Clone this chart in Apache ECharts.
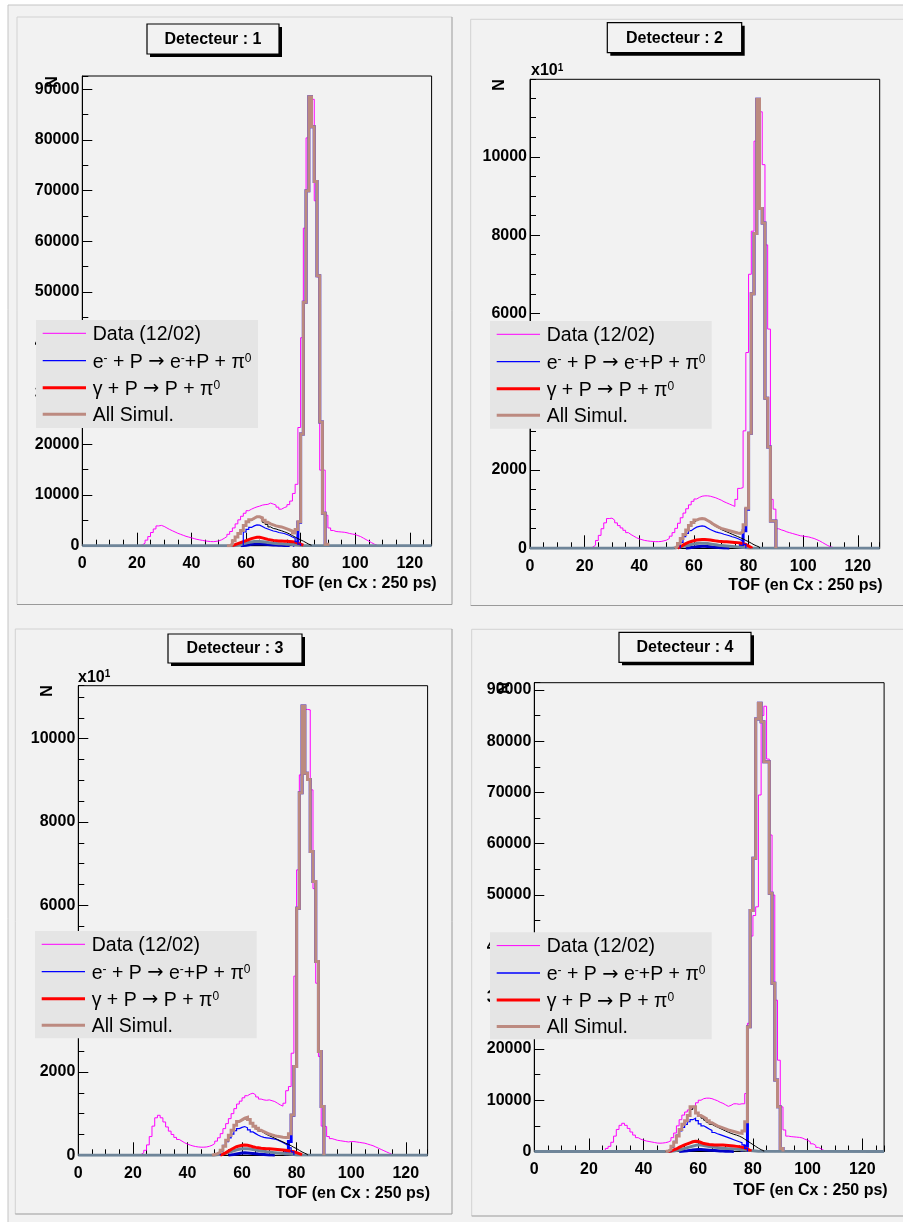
<!DOCTYPE html>
<html><head><meta charset="utf-8">
<script src="https://cdn.jsdelivr.net/npm/echarts@6/dist/echarts.min.js"></script>
<style>html,body{margin:0;padding:0;background:#fff;}#c{width:903px;height:1222px;}</style>
</head><body><div id="c"></div>
<script>
// ---------------- DATA (counts per TOF channel, bin width 1) ----------------
// Detecteur 1
const d1DataStart = 20;
const d1Data = [0,150,500,1100,1800,2600,3300,3900,4000,3800,3500,3200,2950,2700,2450,2250,2050,1850,1700,1550,1400,1250,1150,1050,950,880,820,800,850,950,1150,1450,1800,2250,2800,3500,4300,5100,5800,6400,6900,7200,7450,7650,7800,8000,8100,8150,8400,8200,8000,7600,7200,7500,7700,8100,8800,10300,12100,23300,41000,62600,80400,88000,88000,68000,53000,14900,14900,6000,3500,3000,2800,2750,2700,2650,2550,2400,2300,2200,2000,1800,1500,1200,900,600,300,100];
const d1AllStart = 53;
const d1All = [0,300,1000,1700,2400,3000,4000,4700,5100,5400,5700,5700,5500,5000,4600,4300,4100,3900,3800,3700,3500,3300,3100,2900,2500,3200,4700,22000,48000,70000,88500,82600,71800,53200,24400,6400,300];
const d1PeakStart = 77;
const d1Peak = [300,300,4600,22000,48000,70000,88500,82600,71800,53200,24400,6400];
const d1EPStart = 59;
const d1EP = [2700,3200,3600,3900,4100,4050,3800,3500,3300,3100,2900,2800,2600,2500,2400,2200,2000,1700,1500,800,300];
const d1GPStart = 55;
const d1GP = [200,400,600,800,1000,1200,1400,1550,1650,1650,1550,1400,1250,1150,1050,1000,950,950,900,900,850,800,700,500,300,100];
const d1SumStart = 54;
const d1Sum = [300,1000,1700,2400,3000,3900,4600,5000,5300,5600,5600,5300,4600,4200,3700,3400,3300,3100,2950,2750,2550,2300,2000,1700,1400,1150,900,600,300,100];
const d1GrayStart = 55;
const d1Gray = [50,100,200,350,500,650,750,820,850,850,800,720,640,560,500,450,400,370,340,310,280,240,190,140,80,30];
const d1NavyStart = 58;
const d1Navy = [50,100,200,280,330,350,350,320,280,240,200,160,130,100,80,60,40,20];

// Detecteur 2 (x10^1)
const d2DataStart = 22;
const d2Data = [30,80,200,330,500,650,760,770,720,650,580,520,460,400,350,310,270,240,220,200,190,180,175,170,170,175,190,210,250,310,400,510,640,780,900,1010,1110,1200,1260,1300,1330,1340,1340,1330,1310,1290,1260,1230,1190,1160,1130,1100,1070,1250,1530,1550,3000,5000,7000,8100,10400,11400,11150,9800,7750,5600,1250,1000,500,470,450,420,400,380,360,340,320,310,300,290,270,250,220,190,150,110,70,40,20];
const d2AllStart = 53;
const d2All = [50,120,250,350,470,580,660,720,750,760,750,710,670,620,580,540,510,490,470,450,430,410,390,380,420,600,1020,2940,6500,8040,11470,8680,8310,3830,2590,700,700];
const d2PeakStart = 77;
const d2Peak = [100,450,1000,2940,6500,8040,11470,8680,8310,3830,2590,700,700];
const d2EPStart = 55;
const d2EP = [150,300,380,450,500,540,560,575,560,520,480,450,420,400,385,360,340,320,295,275,250,220,190,100];
const d2GPStart = 54;
const d2GP = [40,80,120,150,175,195,210,220,225,225,220,210,200,190,180,175,170,165,160,155,150,145,135,120,100,60,20];
const d2SumStart = 53;
const d2Sum = [50,120,250,350,470,580,660,710,740,750,740,700,650,600,560,520,480,450,420,390,360,330,300,270,240,200,170,130,90,60,30];
const d2GrayStart = 52;
const d2Gray = [10,20,35,50,65,80,95,110,120,128,130,128,120,110,100,90,80,72,65,58,52,46,40,34,28,22,15,8];
const d2NavyStart = 57;
const d2Navy = [10,20,30,40,48,52,50,45,38,30,24,18,13,9,6,3];

// Detecteur 3 (x10^1)
const d3DataStart = 22;
const d3Data = [20,60,120,250,450,700,900,960,900,800,680,580,500,430,380,340,300,270,245,225,210,200,195,195,200,215,240,280,340,420,520,640,760,880,1000,1120,1230,1300,1380,1430,1470,1490,1450,1400,1350,1330,1320,1330,1310,1290,1250,1210,1180,1250,1550,1650,2450,4300,6850,9130,10600,10700,10690,8770,6400,4130,2370,700,690,450,400,380,360,350,340,330,320,330,330,320,310,300,290,270,250,230,200,170,140,110,80,50,20];
const d3AllStart = 49;
const d3All = [20,40,70,120,220,360,480,600,720,810,850,890,910,860,770,700,650,600,570,540,510,490,470,455,445,435,430,430,520,970,2130,5930,8700,10780,9170,9020,7290,6570,4650,2490,1170];
const d3PeakStart = 76;
const d3Peak = [100,330,960,2130,5930,8700,10780,9170,9020,7290,6570,4650,2490,1170];
const d3EPStart = 52;
const d3EP = [100,240,330,420,510,590,640,670,690,660,610,560,520,480,450,430,420,410,400,390,370,340,310,270,230,180,80];
const d3GPStart = 52;
const d3GP = [30,60,100,140,175,205,225,240,245,240,225,205,190,180,170,165,160,155,150,145,140,135,128,120,110,100,85,65,40,15];
const d3SumStart = 49;
const d3Sum = [20,40,70,120,220,360,480,600,720,800,840,870,880,840,760,690,630,580,540,500,470,440,410,380,350,320,290,260,230,190,160,120,80,50,20];
const d3GrayStart = 50;
const d3Gray = [10,20,35,50,70,90,110,130,145,155,160,158,150,140,128,115,105,95,85,78,70,63,56,50,44,38,32,25,18,10];
const d3NavyStart = 55;
const d3Navy = [10,20,32,45,55,60,58,52,45,38,30,24,18,13,9,6,3];

// Detecteur 4
const d4DataStart = 25;
const d4Data = [200,600,1000,1800,3000,4300,5100,5500,5100,4500,3800,3200,2700,2400,2200,2050,1950,1850,1750,1650,1620,1650,1720,1850,2100,2700,3600,5000,6200,7100,7700,8100,8400,8800,9500,10000,10300,10400,10400,10300,10100,9900,9600,9400,9100,8800,9000,9300,9300,9200,9300,9300,11300,25000,42000,46000,47700,69500,85000,86800,76500,61700,50000,29500,17800,8700,4200,3000,2900,2850,2800,2750,2650,2400,2200,1900,1500,1200,800,500,200];
const d4AllStart = 48;
const d4All = [100,400,1000,1800,3000,4300,5300,6000,7000,8700,8700,7500,7000,6700,6400,6000,5600,5300,5000,4800,4600,4400,4200,4050,3900,3750,3600,3550,4000,5800,24300,47000,57150,84300,87380,83800,76000,76000,50350,32800,13940,8730,600];
const d4PeakStart = 76;
const d4Peak = [500,1000,24300,47000,57150,84300,87380,83800,76000,76000,50350,32800,13940,8730,600];
const d4EPStart = 50;
const d4EP = [800,2000,3200,4000,4700,5300,5800,6200,6500,6000,5400,5000,4700,4400,4100,3700,3450,3300,3100,2900,2700,2500,2300,2100,1900,1700,1300,600];
const d4GPStart = 49;
const d4GP = [100,300,500,800,1050,1300,1500,1700,1900,2000,1950,1750,1550,1450,1350,1300,1250,1250,1250,1250,1200,1150,1100,1050,1000,950,850,700,450,200];
const d4SumStart = 48;
const d4Sum = [100,400,1000,1800,3000,4300,5300,6000,7000,8200,8600,7400,6900,6500,6100,5700,5300,5000,4750,4500,4250,4000,3750,3550,3350,3200,3000,2750,2400,2050,1700,1350,1000,650,350,150];
const d4GrayStart = 49;
const d4Gray = [50,100,200,300,450,600,750,900,1050,1200,1300,1250,1150,1050,950,880,820,760,700,650,600,560,520,480,440,400,350,300,250,200,150,100,50];
const d4NavyStart = 53;
const d4Navy = [50,100,150,220,300,360,400,380,340,300,260,220,180,150,120,90,70,50,30,15];

// Axis ticks / texts
const xTicks = [0, 20, 40, 60, 80, 100, 120];
const titles = ['Detecteur : 1', 'Detecteur : 2', 'Detecteur : 3', 'Detecteur : 4'];
const xTitle = 'TOF (en Cx : 250 ps)';
const yTitle = 'N';

// ---------------- LAYOUT ----------------
const FONT = '"Liberation Sans", Arial, Helvetica, sans-serif';
const C = {data:'#ff00ff', ep:'#0000ff', gp:'#ff0000', all:'#bc8a80', sum:'#000000', gray:'#6f8599', navy:'#0000c8'};
const BG = '#f2f2f2';

const panels = [
  {grid:[82.3,76,349.3,469.7], ymax:92600, yint:10000, ymin:5000, box:[147,24,132,30], leg:[36,320,222,108], n:[52.5,82], x10:null, tof:[436.7,583.3], pad:[17,17,452,604.5],
   s:{data:[d1DataStart,d1Data], all:[d1AllStart,d1All], peak:[d1PeakStart,d1Peak], ep:[d1EPStart,d1EP], gp:[d1GPStart,d1GP], sum:[d1SumStart,d1Sum], gray:[d1GrayStart,d1Gray], navy:[d1NavyStart,d1Navy]}},
  {grid:[530,79.3,349.7,469], ymax:11980, yint:2000, ymin:500, box:[607.3,22.7,134.4,30], leg:[490,321,221.7,107.7], n:[500,85], x10:[531,71], tof:[882.7,586], pad:[470.7,19.3,905,605.5],
   s:{data:[d2DataStart,d2Data], all:[d2AllStart,d2All], peak:[d2PeakStart,d2Peak], ep:[d2EPStart,d2EP], gp:[d2GPStart,d2GP], sum:[d2SumStart,d2Sum], gray:[d2GrayStart,d2Gray], navy:[d2NavyStart,d2Navy]}},
  {grid:[78.3,685.7,349.3,469.6], ymax:11270, yint:2000, ymin:500, box:[168,634,134,29], leg:[35,931,221.7,107.3], n:[48,691], x10:[78,677.5], tof:[430,1193.3], pad:[15.3,629,452,1214],
   s:{data:[d3DataStart,d3Data], all:[d3AllStart,d3All], peak:[d3PeakStart,d3Peak], ep:[d3EPStart,d3EP], gp:[d3GPStart,d3GP], sum:[d3SumStart,d3Sum], gray:[d3GrayStart,d3Gray], navy:[d3NavyStart,d3Navy]}},
  {grid:[534.3,682.7,349.8,468.8], ymax:91390, yint:10000, ymin:5000, box:[619,632.3,132,30], leg:[490,932.3,221.7,107], n:[505,688], x10:null, tof:[887.7,1190.7], pad:[471.7,629.3,905,1216],
   s:{data:[d4DataStart,d4Data], all:[d4AllStart,d4All], peak:[d4PeakStart,d4Peak], ep:[d4EPStart,d4EP], gp:[d4GPStart,d4GP], sum:[d4SumStart,d4Sum], gray:[d4GrayStart,d4Gray], navy:[d4NavyStart,d4Navy]}}
];

function hist(start, vals, full) {
  const pts = [];
  if (full) pts.push([0, 0]);
  pts.push([start, 0]);
  for (let i = 0; i < vals.length; i++) pts.push([start + i, vals[i]]);
  pts.push([start + vals.length, 0]);
  if (full) pts.push([128, 0]);
  return pts;
}

const grids = [], xAxes = [], yAxes = [], series = [], graphics = [];

graphics.push({type:'rect', shape:{x:8,y:5,width:900,height:1222}, style:{fill:BG, stroke:'#c4c4c4', lineWidth:1}, z:-20, silent:true});

panels.forEach((p, i) => {
  const [gl, gt, gw, gh] = p.grid;
  grids.push({left:gl, top:gt, width:gw, height:gh, show:true, borderColor:'#000', borderWidth:1, backgroundColor:'transparent', containLabel:false, outerBoundsMode:'none'});
  const lab = {color:'#000', fontFamily:FONT, fontWeight:'bold', fontSize:16};
  xAxes.push({gridIndex:i, type:'value', position:'bottom', min:0, max:128, interval:20,
    axisLine:{show:true, onZero:false, lineStyle:{color:'#000', width:1}},
    axisTick:{show:true, inside:true, length:13, lineStyle:{color:'#000', width:1}},
    splitLine:{show:false},
    axisLabel:Object.assign({margin:10, showMaxLabel:false, formatter:v => (xTicks.indexOf(v) >= 0 ? String(v) : '')}, lab)});
  xAxes.push({gridIndex:i, type:'value', position:'bottom', min:0, max:128, interval:5,
    axisLine:{show:false}, axisTick:{show:true, inside:true, length:6, lineStyle:{color:'#000', width:1}},
    splitLine:{show:false}, axisLabel:{show:false}});
  yAxes.push({gridIndex:i, type:'value', position:'left', min:0, max:p.ymax, interval:p.yint,
    axisLine:{show:true, onZero:false, lineStyle:{color:'#000', width:1}},
    axisTick:{show:true, inside:true, length:10, lineStyle:{color:'#000', width:1}},
    splitLine:{show:false},
    axisLabel:Object.assign({margin:3, showMaxLabel:false, formatter:v => (v % p.yint === 0 ? String(v) : '')}, lab)});
  yAxes.push({gridIndex:i, type:'value', position:'left', min:0, max:p.ymax, interval:p.ymin,
    axisLine:{show:false}, axisTick:{show:true, inside:true, length:6, lineStyle:{color:'#000', width:1}},
    splitLine:{show:false}, axisLabel:{show:false}});

  const xi = 2 * i, yi = 2 * i;
  const mk = (name, key, color, width, z, full) => ({
    type:'line', name, xAxisIndex:xi, yAxisIndex:yi, data:hist(p.s[key][0], p.s[key][1], full),
    step:'end', showSymbol:false, symbol:'none', lineStyle:{color, width, join:'miter'}, z, animation:false, silent:true, clip:true
  });
  series.push(mk('Data (12/02)', 'data', C.data, 1, 2, false));
  series.push(mk('peak', 'peak', C.ep, 3, 3, false));
  series.push(mk('navy', 'navy', C.navy, 3, 4, false));
  series.push(mk('gray', 'gray', C.gray, 3, 5, true));
  series.push(mk('gamma', 'gp', C.gp, 3, 6, false));
  series.push(mk('ep', 'ep', C.ep, 1.2, 7, false));
  series.push(mk('sum', 'sum', C.sum, 1, 8, false));
  series.push(mk('All Simul.', 'all', C.all, 3, 9, false));

  const [pl, pt, pr, pb] = p.pad;
  graphics.push({type:'polyline', shape:{points:[[pl,pb],[pl,pt],[pr,pt]]}, style:{stroke:'#d2d2d2', lineWidth:1, fill:null}, z:-10, silent:true});
  graphics.push({type:'polyline', shape:{points:[[pl,pb],[pr,pb],[pr,pt]]}, style:{stroke:'#9a9a9a', lineWidth:1, fill:null}, z:-10, silent:true});

  const [bx, by, bw, bh] = p.box;
  graphics.push({type:'rect', shape:{x:bx+3, y:by+3, width:bw, height:bh}, style:{fill:'#000'}, z:20, silent:true});
  graphics.push({type:'rect', shape:{x:bx, y:by, width:bw, height:bh}, style:{fill:BG, stroke:'#000', lineWidth:1.2}, z:21, silent:true});
  graphics.push({type:'text', x:bx + bw/2, y:by + bh/2 + 0.5, style:{text:titles[i], font:'bold 16px ' + FONT, fill:'#000', align:'center', verticalAlign:'middle'}, z:22, silent:true});

  const [lx, ly, lw, lh] = p.leg;
  graphics.push({type:'rect', shape:{x:lx, y:ly, width:lw, height:lh}, style:{fill:'#e5e5e5'}, z:20, silent:true});
  const rows = [13.3, 40.7, 67.7, 94.3];
  const sampleStyle = [[C.data,1],[C.ep,1.3],[C.gp,3],[C.all,3]];
  const rich = {
    n:{fontSize:19.5, fontFamily:FONT, fill:'#000', color:'#000'},
    a:{fontSize:19.5, fontFamily:'"DejaVu Sans", sans-serif', fill:'#000', color:'#000'},
    s:{fontSize:12, fontFamily:FONT, fill:'#000', color:'#000', verticalAlign:'top', lineHeight:12}
  };
  const texts = [
    '{n|Data (12/02)}',
    '{n|e}{s|-}{n| + P }{a|\u2192}{n| e}{s|-}{n|+P + \u03c0}{s|0}',
    '{n|\u03b3 + P }{a|\u2192}{n| P + \u03c0}{s|0}',
    '{n|All Simul.}'
  ];
  rows.forEach((ry, k) => {
    graphics.push({type:'line', shape:{x1:lx+6.7, y1:ly+ry, x2:lx+50, y2:ly+ry}, style:{stroke:sampleStyle[k][0], lineWidth:sampleStyle[k][1]}, z:21, silent:true});
    graphics.push({type:'text', x:lx+56.7, y:ly+ry+1.5, style:{text:texts[k], rich:rich, font:'19.5px ' + FONT, fill:'#000', align:'left', verticalAlign:'middle'}, z:21, silent:true});
  });

  graphics.push({type:'text', x:p.n[0], y:p.n[1], rotation:Math.PI/2, style:{text:yTitle, font:'bold 16px ' + FONT, fill:'#000', align:'center', verticalAlign:'middle'}, z:22, silent:true});
  if (p.x10) {
    graphics.push({type:'text', x:p.x10[0], y:p.x10[1], style:{text:'{b|x10}{s|1}', rich:{b:{fontSize:16, fontWeight:'bold', fontFamily:FONT, fill:'#000'}, s:{fontSize:10, fontWeight:'bold', fontFamily:FONT, fill:'#000', verticalAlign:'top', lineHeight:10}}, font:'bold 16px ' + FONT, align:'left', verticalAlign:'middle'}, z:22, silent:true});
  }
  graphics.push({type:'text', x:p.tof[0], y:p.tof[1], style:{text:xTitle, font:'bold 16px ' + FONT, fill:'#000', align:'right', verticalAlign:'middle'}, z:22, silent:true});
});

const chart = echarts.init(document.getElementById('c'), null, {renderer:'canvas', width:903, height:1222});
chart.setOption({
  backgroundColor:'#ffffff',
  animation:false,
  grid:grids, xAxis:xAxes, yAxis:yAxes, series:series,
  graphic:{elements:graphics}
});
</script>
</body></html>
